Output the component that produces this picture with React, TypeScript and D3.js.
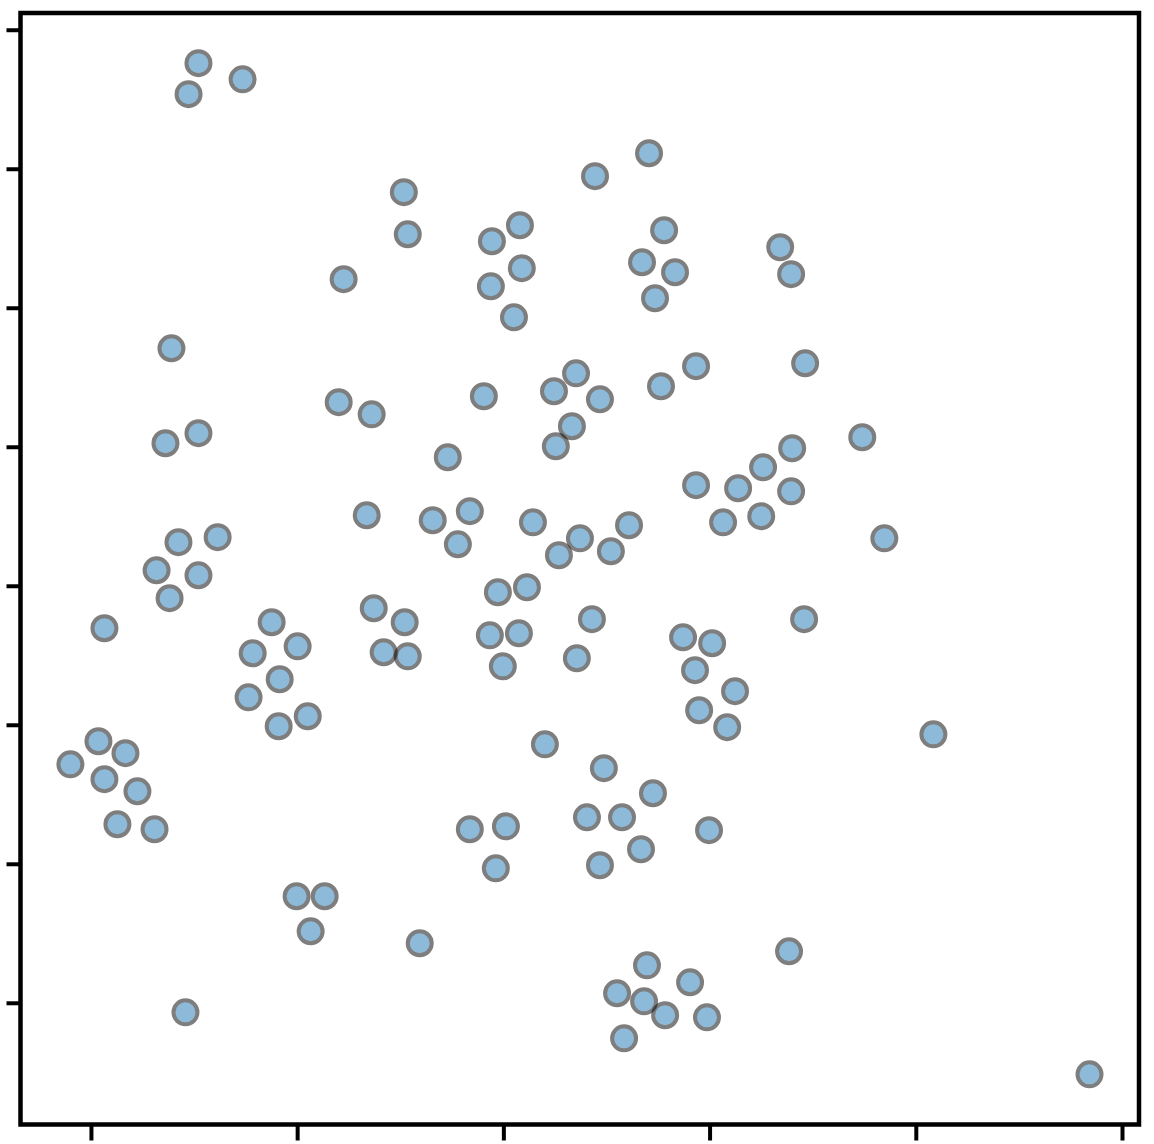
import React from "react";
import * as d3 from "d3";

// Point values (x, y), in axis units
const xValues = [
  0.519, 0.471, 0.733, 2.704, 2.442, 1.515, 1.534, 2.078, 1.942, 2.087,
  1.937, 2.049, 2.777, 2.670, 2.830, 2.733, 3.340, 3.393, 1.223, 0.388,
  3.461, 2.932, 2.350, 2.243, 2.466, 2.762, 1.903, 1.199, 1.359, 2.330,
  2.252, 0.519, 0.359, 1.728, 3.738, 3.398, 3.257, 2.932, 3.136, 3.393,
  3.248, 3.063, 1.335, 1.655, 1.835, 1.777, 2.141, 2.607, 2.369, 2.267,
  2.519, 3.845, 0.612, 0.422, 0.316, 0.519, 0.379, 1.971, 2.112, 1.369,
  1.519, 1.417, 1.534, 1.932, 2.073, 1.995, 2.427, 2.354, 3.456, 0.063,
  0.874, 1.000, 0.782, 0.913, 0.762, 1.049, 0.908, 2.869, 3.010, 2.927,
  3.121, 2.947, 3.083, 4.083, 0.034, 0.165, -0.102, 0.063, 0.223, 0.126,
  0.306, 2.199, 2.485, 2.723, 2.403, 2.573, 2.665, 2.466, 1.835, 2.010,
  1.961, 2.995, 0.995, 1.131, 1.063, 1.592, 3.383, 2.694, 2.903, 2.549,
  2.680, 2.782, 2.985, 2.583, 0.456, 4.840,
];
const yValues = [
  6.763, 6.540, 6.647, 6.115, 5.950, 5.835, 5.532, 5.597, 5.482, 5.288,
  5.158, 4.935, 5.561, 5.331, 5.259, 5.072, 5.439, 5.245, 5.209, 4.712,
  4.604, 4.583, 4.532, 4.403, 4.345, 4.439, 4.367, 4.324, 4.237, 4.151,
  4.007, 4.101, 4.029, 3.928, 4.072, 3.993, 3.856, 3.727, 3.705, 3.683,
  3.504, 3.460, 3.511, 3.475, 3.540, 3.302, 3.460, 3.439, 3.345, 3.223,
  3.252, 3.345, 3.353, 3.317, 3.115, 3.079, 2.914, 2.957, 2.993, 2.842,
  2.741, 2.525, 2.496, 2.647, 2.662, 2.424, 2.763, 2.482, 2.763, 2.698,
  2.741, 2.568, 2.518, 2.331, 2.201, 2.065, 1.993, 2.633, 2.590, 2.396,
  2.245, 2.108, 1.986, 1.935, 1.885, 1.799, 1.719, 1.612, 1.525, 1.288,
  1.252, 1.863, 1.691, 1.511, 1.338, 1.338, 1.108, 0.993, 1.252, 1.273,
  0.971, 1.245, 0.770, 0.770, 0.518, 0.432, 0.374, 0.273, 0.151, 0.072,
  0.014, -0.086, -0.101, -0.252, -0.065, -0.511,
];
const xTicks = [0, 1, 2, 3, 4, 5];
const yTicks = [0, 1, 2, 3, 4, 5, 6, 7];

const W = 1154;
const H = 1144;

export default function App() {
  const x = d3.scaleLinear().domain([-0.344, 5.08]).range([20.5, 1139]);
  const y = d3.scaleLinear().domain([-0.872, 7.124]).range([1124.5, 13]);
  const pts = xValues.map((v, i) => ({ x: v, y: yValues[i] }));
  const [x0, x1] = x.range();
  const [y0, y1] = y.range();
  return (
    <svg
      width={W}
      height={H}
      style={{ position: "absolute", left: 0, top: 0, background: "#fff" }}
    >
      <rect x={0} y={0} width={W} height={H} fill="#fff" />
      {pts.map((p, i) => (
        <circle
          key={i}
          cx={x(p.x)}
          cy={y(p.y)}
          r={12}
          fill="#1f77b4"
          stroke="#000"
          strokeWidth={4}
          opacity={0.5}
        />
      ))}
      {/* frame */}
      <rect
        x={x0}
        y={y1}
        width={x1 - x0}
        height={y0 - y1}
        fill="none"
        stroke="#000"
        strokeWidth={4.5}
      />
      {yTicks.map((t) => (
        <line
          key={"y" + t}
          x1={x0 - 14}
          x2={x0}
          y1={y(t)}
          y2={y(t)}
          stroke="#000"
          strokeWidth={4}
        />
      ))}
      {xTicks.map((t) => (
        <line
          key={"x" + t}
          x1={x(t)}
          x2={x(t)}
          y1={y0}
          y2={y0 + 16}
          stroke="#000"
          strokeWidth={4}
        />
      ))}
    </svg>
  );
}
